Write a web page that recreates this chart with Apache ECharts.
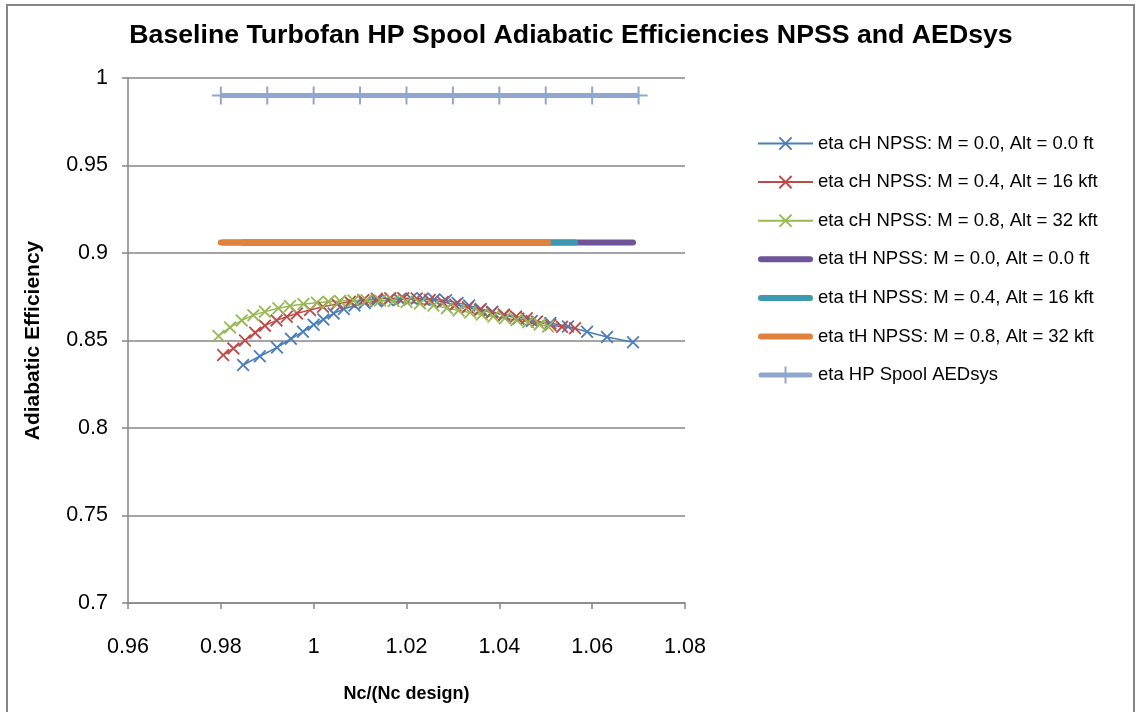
<!DOCTYPE html>
<html>
<head>
<meta charset="utf-8">
<script src="https://cdn.jsdelivr.net/npm/echarts@6/dist/echarts.min.js"></script>
<style>
html,body{margin:0;padding:0;background:#fff;}
#chart{width:1138px;height:712px;}
</style>
</head>
<body>
<div id="chart"></div>
<script>
// ---- Data ----
const xTicks = [0.96, 0.98, 1.00, 1.02, 1.04, 1.06, 1.08];
const yTicks = [0.70, 0.75, 0.80, 0.85, 0.90, 0.95, 1.00];

const cH0X = [0.9848,0.9884,0.9921,0.9951,0.9977,1.0000,1.0021,1.0043,1.0065,1.0088,1.0110,1.0135,1.0160,1.0185,1.0210,1.0235,1.0260,1.0285,1.0310,1.0335,1.0360,1.0385,1.0410,1.0441,1.0470,1.0510,1.0548,1.0589,1.0632,1.0688];
const cH0Y = [0.836,0.841,0.846,0.851,0.855,0.859,0.862,0.8655,0.868,0.870,0.8715,0.8725,0.873,0.8735,0.874,0.874,0.8735,0.873,0.8715,0.870,0.868,0.8665,0.8645,0.8625,0.8612,0.860,0.858,0.855,0.852,0.849];

const cH4X = [0.9805,0.9827,0.9852,0.9874,0.9895,0.9920,0.9942,0.9964,0.9992,1.0020,1.0050,1.0078,1.0107,1.0136,1.0165,1.0193,1.0222,1.0250,1.0278,1.0305,1.0332,1.0358,1.0384,1.0410,1.0436,1.0459,1.0481,1.0510,1.0535,1.0563];
const cH4Y = [0.8417,0.8455,0.850,0.8545,0.8585,0.8615,0.8636,0.8655,0.8674,0.8693,0.8709,0.8722,0.8731,0.8738,0.8742,0.8742,0.874,0.8732,0.872,0.8705,0.869,0.8675,0.866,0.8648,0.8637,0.8627,0.8608,0.8589,0.8578,0.857];

const cH8X = [0.9795,0.9820,0.9845,0.9870,0.9895,0.9924,0.9949,0.9978,1.0007,1.0032,1.0057,1.0086,1.0114,1.0143,1.0172,1.0200,1.0229,1.0258,1.0287,1.0312,1.0337,1.0362,1.0387,1.0412,1.0437,1.0462,1.0487,1.0505];
const cH8Y = [0.8526,0.8575,0.8615,0.8645,0.8665,0.8684,0.8697,0.8709,0.8716,0.8722,0.8726,0.8729,0.873,0.8728,0.8726,0.872,0.8712,0.87,0.8685,0.8672,0.866,0.8648,0.8637,0.8627,0.8617,0.8605,0.8592,0.858];

// turbine efficiency lines (constant): start x, end x, value
const tH0 = {x: [0.9848, 1.0688], y: [0.906, 0.906]};
const tH4 = {x: [0.9805, 1.0563], y: [0.906, 0.906]};
const tH8 = {x: [0.9800, 1.0505], y: [0.906, 0.906]};

const aedX = [0.98,0.99,1.00,1.01,1.02,1.03,1.04,1.05,1.06,1.07];
const aedY = [0.99,0.99,0.99,0.99,0.99,0.99,0.99,0.99,0.99,0.99];

const names = [
  'eta cH NPSS: M = 0.0, Alt = 0.0 ft',
  'eta cH NPSS: M = 0.4, Alt = 16 kft',
  'eta cH NPSS: M = 0.8, Alt = 32 kft',
  'eta tH NPSS: M = 0.0, Alt = 0.0 ft',
  'eta tH NPSS: M = 0.4, Alt = 16 kft',
  'eta tH NPSS: M = 0.8, Alt = 32 kft',
  'eta HP Spool AEDsys'
];

function zip(xs, ys){ return xs.map((x,i)=>[x, ys[i]]); }

const X_SYM = 'path://M0,1 L1,0 L5,4 L9,0 L10,1 L6,5 L10,9 L9,10 L5,6 L1,10 L0,9 L4,5 Z';
const PLUS_SYM = 'path://M8,0H10V8H18V10H10V18H8V10H0V8H8Z';
const BAR_ICON = 'path://M3,0H52A3,3 0 0 1 52,6H3A3,3 0 0 1 3,0Z';
const AED_ICON = 'path://M3,6H52A2.5,2.5 0 0 1 52,11H3A2.5,2.5 0 0 1 3,6Z M26.5,0H28.5V17H26.5Z';
const FONT = '"Liberation Sans", Arial, sans-serif';

function cHSeries(name, data, color){
  return {
    name, type:'line', data, symbol: X_SYM, symbolSize: 13, showSymbol:true,
    lineStyle:{color, width:1.5}, itemStyle:{color}, emphasis:{disabled:true}, animation:false, z:2
  };
}
function tHSeries(name, obj, color, z){
  return {
    name, type:'line', data: zip(obj.x, obj.y), symbol:'none',
    lineStyle:{color, width:6, cap:'round'}, itemStyle:{color}, emphasis:{disabled:true}, animation:false, z
  };
}

const chart = echarts.init(document.getElementById('chart'), null, {renderer:'canvas'});
const fmt = v => String(parseFloat(Number(v).toFixed(2)));

chart.setOption({
  backgroundColor:'#ffffff',
  animation:false,
  title:{
    text:'Baseline Turbofan HP Spool Adiabatic Efficiencies NPSS and AEDsys',
    left: 566, textAlign:'center', top: 17,
    textStyle:{fontFamily:FONT, fontWeight:'bold', fontSize:26.7, color:'#000'}
  },
  graphic:[{
    type:'rect', shape:{x:7, y:5, width:1127, height:730},
    style:{fill:'none', stroke:'#868686', lineWidth:2}, silent:true, z:-10
  }],
  legend:{
    orient:'vertical', left:757, top:133, padding:0,
    itemWidth:55, itemHeight:17, itemGap:17.6, symbolKeepAspect:true,
    textStyle:{fontFamily:FONT, fontSize:18.5, color:'#000', lineHeight:21},
    data: [
      {name:names[0]}, {name:names[1]}, {name:names[2]},
      {name:names[3], icon:BAR_ICON}, {name:names[4], icon:BAR_ICON}, {name:names[5], icon:BAR_ICON},
      {name:names[6], icon:AED_ICON}
    ]
  },
  grid:{left:128, right:453, top:78, bottom:109, containLabel:false},
  xAxis:{
    type:'value', min:0.96, max:1.08, interval:0.02,
    name:'Nc/(Nc design)', nameLocation:'middle', nameGap:82,
    nameTextStyle:{fontFamily:FONT, fontWeight:'bold', fontSize:18, color:'#000'},
    axisLine:{onZero:false, lineStyle:{color:'#868686', width:1.5}},
    axisTick:{show:true, length:6, lineStyle:{color:'#868686', width:1.5}},
    axisLabel:{fontFamily:FONT, fontSize:21.5, color:'#000', margin:33, formatter:fmt},
    splitLine:{show:false}
  },
  yAxis:{
    type:'value', min:0.7, max:1.0, interval:0.05,
    name:'Adiabatic Efficiency', nameLocation:'middle', nameGap:84, nameRotate:90,
    nameTextStyle:{fontFamily:FONT, fontWeight:'bold', fontSize:21, color:'#000'},
    axisLine:{show:true, lineStyle:{color:'#868686', width:1.5}},
    axisTick:{show:true, length:6, lineStyle:{color:'#868686', width:1.5}},
    axisLabel:{fontFamily:FONT, fontSize:21.5, color:'#000', margin:20, formatter:fmt},
    splitLine:{show:true, lineStyle:{color:'#868686', width:1.5}}
  },
  series:[
    cHSeries(names[0], zip(cH0X, cH0Y), '#4A7EBB'),
    cHSeries(names[1], zip(cH4X, cH4Y), '#BE4B48'),
    cHSeries(names[2], zip(cH8X, cH8Y), '#98B954'),
    tHSeries(names[3], tH0, '#6F5597', 3),
    tHSeries(names[4], tH4, '#3D98B0', 4),
    tHSeries(names[5], tH8, '#E0823C', 5),
    {
      name:names[6], type:'line', data: zip(aedX, aedY), symbol: PLUS_SYM, symbolSize:18,
      lineStyle:{color:'#8FA7CD', width:5}, itemStyle:{color:'#8FA7CD'},
      emphasis:{disabled:true}, animation:false, z:6
    }
  ]
});
</script>
</body>
</html>
